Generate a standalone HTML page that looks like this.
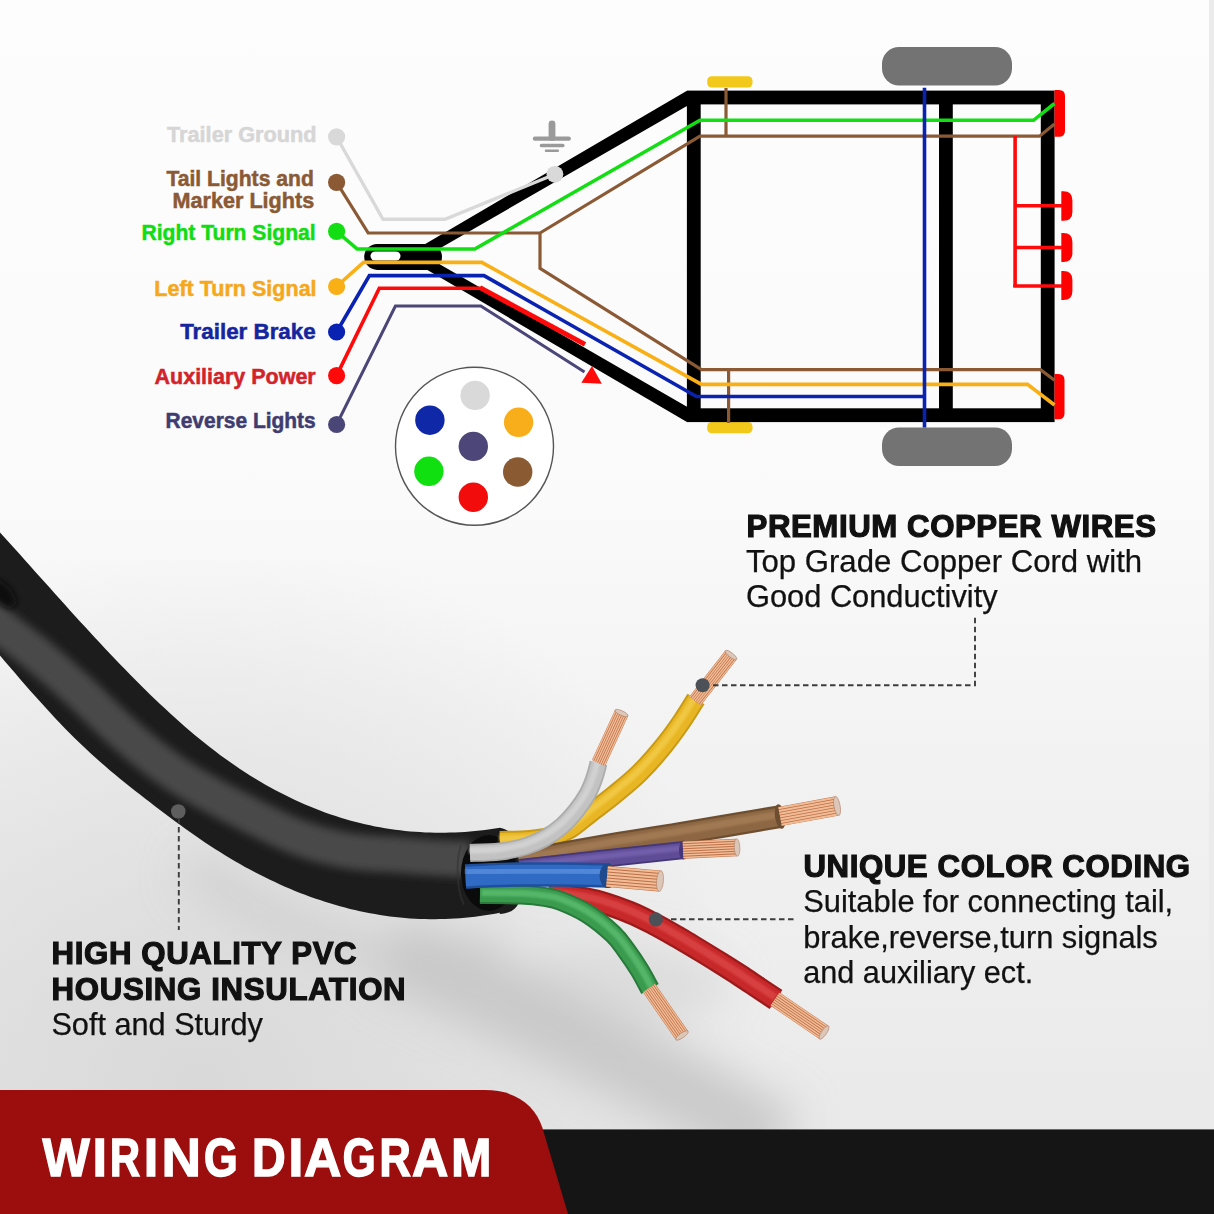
<!DOCTYPE html><html><head><meta charset="utf-8"><style>html,body{margin:0;padding:0;background:#f4f4f4;overflow:hidden;width:1214px;height:1214px;}svg{display:block}</style></head><body>
<svg width="1214" height="1214" viewBox="0 0 1214 1214">
<defs>
<linearGradient id="bg" x1="0" y1="0" x2="0" y2="1214" gradientUnits="userSpaceOnUse">
 <stop offset="0" stop-color="#fdfdfd"/>
 <stop offset="0.42" stop-color="#fafafa"/>
 <stop offset="0.60" stop-color="#f3f3f3"/>
 <stop offset="0.78" stop-color="#eeeeee"/>
 <stop offset="0.90" stop-color="#eaeaea"/>
 <stop offset="1" stop-color="#e8e8e8"/>
</linearGradient>
<radialGradient id="bl" cx="200" cy="1090" r="560" gradientUnits="userSpaceOnUse">
 <stop offset="0" stop-color="#d9d9d9" stop-opacity="1"/>
 <stop offset="1" stop-color="#d6d6d6" stop-opacity="0"/>
</radialGradient>
<filter id="blur8" x="-50%" y="-50%" width="200%" height="200%"><feGaussianBlur stdDeviation="8"/></filter>
<filter id="blur20" x="-50%" y="-50%" width="200%" height="200%"><feGaussianBlur stdDeviation="20"/></filter>
<filter id="blur3" x="-50%" y="-50%" width="200%" height="200%"><feGaussianBlur stdDeviation="3"/></filter>
<filter id="blur4" x="-50%" y="-50%" width="200%" height="200%"><feGaussianBlur stdDeviation="4.5"/></filter>
<filter id="blur1" x="-50%" y="-50%" width="200%" height="200%"><feGaussianBlur stdDeviation="1.2"/></filter>
<pattern id="copper" width="4" height="4" patternUnits="userSpaceOnUse"><rect width="4" height="4" fill="#e9a878"/><rect width="4" height="1.3" fill="#c27645"/></pattern>
</defs>
<rect x="0" y="0" width="1214" height="1214" fill="url(#bg)"/>
<rect x="0" y="560" width="1214" height="654" fill="url(#bl)"/>
<rect x="1209" y="0" width="5" height="1214" fill="#ebebeb"/>
<rect x="882" y="47" width="130" height="38.5" rx="17" fill="#737373"/>
<rect x="882" y="427.5" width="130" height="38.5" rx="17" fill="#737373"/>
<rect x="707.2" y="76.2" width="45.3" height="11.3" rx="4.5" fill="#f2c81a"/>
<rect x="707.2" y="422" width="45.3" height="11.3" rx="4.5" fill="#f2c81a"/>
<g fill="none" stroke="#000" stroke-width="13.8" stroke-linejoin="miter">
<rect x="693.8" y="97.5" width="353.9" height="317.7"/>
<path d="M 945.9,97.5 L 945.9,415.2"/>
</g>
<path d="M 412,251.8 L 686.5,90.9 L 694,90.9 L 694,106.3 L 686.5,106.3 L 412,264.4 Z" fill="#000"/>
<path d="M 412,260.9 L 686.5,421.8 L 694,421.8 L 694,406.4 L 686.5,406.4 L 412,248.3 Z" fill="#000"/>
<rect x="364.2" y="243.9" width="77.8" height="26" rx="13" fill="#000"/>
<rect x="370.5" y="251.4" width="30" height="9.2" rx="4.6" fill="#fff"/>
<path d="M 1054.5,89.9 L 1059.0,89.9 Q 1065.0,89.9 1065.0,95.9 L 1065.0,130.8 Q 1065.0,136.8 1059.0,136.8 L 1054.5,136.8 Z" fill="#ff0000"/>
<path d="M 1054.5,374.1 L 1058.5,374.1 Q 1064.5,374.1 1064.5,380.1 L 1064.5,413.3 Q 1064.5,419.3 1058.5,419.3 L 1054.5,419.3 Z" fill="#ff0000"/>
<path d="M 1061.3,191.2 L 1063.4,191.2 Q 1072.4,191.2 1072.4,200.2 L 1072.4,211.7 Q 1072.4,220.7 1063.4,220.7 L 1061.3,220.7 Z" fill="#ff0000"/>
<path d="M 1061.3,233.0 L 1063.4,233.0 Q 1072.4,233.0 1072.4,242.0 L 1072.4,252.9 Q 1072.4,261.9 1063.4,261.9 L 1061.3,261.9 Z" fill="#ff0000"/>
<path d="M 1061.3,271.0 L 1063.4,271.0 Q 1072.4,271.0 1072.4,280.0 L 1072.4,290.9 Q 1072.4,299.9 1063.4,299.9 L 1061.3,299.9 Z" fill="#ff0000"/>
<path d="M 336.6,137.0 L 383.0,219.3 L 445.0,219.3 L 554.9,174.3" fill="none" stroke="#d9d9d9" stroke-width="3.4" stroke-linejoin="miter"/>
<path d="M 726.0,88.0 L 726.0,136.4" fill="none" stroke="#8b5a35" stroke-width="3.2" stroke-linejoin="miter"/>
<path d="M 728.6,369.5 L 728.6,423.0" fill="none" stroke="#8b5a35" stroke-width="3.2" stroke-linejoin="miter"/>
<path d="M 336.6,182.4 L 368.2,233.0 L 540.0,233.0 L 700.0,136.2 L 1039.5,136.2 L 1054.5,124.0" fill="none" stroke="#8b5a35" stroke-width="3.2" stroke-linejoin="miter"/>
<path d="M 540.0,233.0 L 540.0,268.3 L 701.5,369.6 L 1040.5,369.6 L 1054.5,380.2" fill="none" stroke="#8b5a35" stroke-width="3.2" stroke-linejoin="miter"/>
<path d="M 336.6,231.3 L 357.2,249.0 L 474.8,249.0 L 700.0,120.3 L 1033.5,120.3 L 1054.5,103.5" fill="none" stroke="#13dd13" stroke-width="3.6" stroke-linejoin="miter"/>
<path d="M 336.6,286.5 L 363.5,262.4 L 481.8,262.4 L 701.5,384.4 L 1027.5,384.4 L 1054.5,405.0" fill="none" stroke="#f8b016" stroke-width="3.6" stroke-linejoin="miter"/>
<path d="M 924.5,87.8 L 924.5,427.6" fill="none" stroke="#0a22b2" stroke-width="3.6" stroke-linejoin="miter"/>
<path d="M 336.6,332.0 L 369.4,275.6 L 484.0,275.6 L 696.5,396.5 L 924.5,396.5" fill="none" stroke="#0a22b2" stroke-width="3.6" stroke-linejoin="miter"/>
<path d="M 336.6,375.6 L 379.3,288.3 L 482.0,288.3" fill="none" stroke="#ff0a0a" stroke-width="3.6" stroke-linejoin="miter"/>
<path d="M 480.0,287.6 L 585.0,344.4" fill="none" stroke="#ff0a0a" stroke-width="5.0" stroke-linejoin="miter"/>
<path d="M 1015.1,136.0 L 1015.1,287.0" fill="none" stroke="#ff0a0a" stroke-width="3.6" stroke-linejoin="miter"/>
<path d="M 1015.1,205.7 L 1062.0,205.7" fill="none" stroke="#ff0a0a" stroke-width="3.6" stroke-linejoin="miter"/>
<path d="M 1015.1,247.5 L 1062.0,247.5" fill="none" stroke="#ff0a0a" stroke-width="3.6" stroke-linejoin="miter"/>
<path d="M 1013.3,286.0 L 1062.0,286.0" fill="none" stroke="#ff0a0a" stroke-width="3.6" stroke-linejoin="miter"/>
<path d="M 336.6,424.5 L 395.4,306.0 L 480.8,306.0 L 584.5,372.0" fill="none" stroke="#4a4678" stroke-width="3.0" stroke-linejoin="miter"/>
<path d="M 592,366 L 581.3,382.8 L 601.8,383.8 Z" fill="#ff0a0a"/>
<circle cx="336.6" cy="136.8" r="8.6" fill="#d9d9d9"/>
<circle cx="336.6" cy="182.4" r="8.6" fill="#8b5a35"/>
<circle cx="336.6" cy="231.3" r="8.6" fill="#13dd13"/>
<circle cx="336.6" cy="286.5" r="8.6" fill="#f8b016"/>
<circle cx="336.6" cy="332.0" r="8.6" fill="#0a22b2"/>
<circle cx="336.6" cy="375.6" r="8.6" fill="#ff0a0a"/>
<circle cx="336.6" cy="424.5" r="8.6" fill="#4a4678"/>
<circle cx="554.9" cy="174.3" r="8.4" fill="#d9d9d9"/>
<g stroke="#9a9a9a" stroke-linecap="round" fill="none"><path d="M 552,124 L 552,137.5" stroke-width="6.8"/><path d="M 534.9,138.7 L 568.8,138.7" stroke-width="4.3"/><path d="M 541.6,145.5 L 562.7,145.5" stroke-width="3.7"/><path d="M 546,150.7 L 557.8,150.7" stroke-width="2.5"/></g>
<circle cx="474.5" cy="446.3" r="79" fill="#fff" stroke="#555" stroke-width="1.4"/>
<circle cx="475.1" cy="395.4" r="14.7" fill="#d9d9d9"/>
<circle cx="429.9" cy="420.2" r="14.7" fill="#0f28a8"/>
<circle cx="518.6" cy="422.3" r="14.7" fill="#f8ae1a"/>
<circle cx="473.3" cy="446.4" r="14.7" fill="#4d4779"/>
<circle cx="428.9" cy="471.3" r="14.7" fill="#10e010"/>
<circle cx="517.7" cy="472.0" r="14.7" fill="#8a5a33"/>
<circle cx="473.3" cy="497.2" r="14.7" fill="#f20c0c"/>
<text x="167.0" y="142.2" textLength="149.6" lengthAdjust="spacingAndGlyphs" style="font-family:&quot;Liberation Sans&quot;,sans-serif;font-weight:bold;font-size:21.3px;fill:#d6d6d6;stroke:#d6d6d6;stroke-width:0.5px">Trailer Ground</text>
<text x="166.4" y="185.8" textLength="147.4" lengthAdjust="spacingAndGlyphs" style="font-family:&quot;Liberation Sans&quot;,sans-serif;font-weight:bold;font-size:21.3px;fill:#8b5a35;stroke:#8b5a35;stroke-width:0.5px">Tail Lights and</text>
<text x="172.6" y="207.6" textLength="141.6" lengthAdjust="spacingAndGlyphs" style="font-family:&quot;Liberation Sans&quot;,sans-serif;font-weight:bold;font-size:21.3px;fill:#8b5a35;stroke:#8b5a35;stroke-width:0.5px">Marker Lights</text>
<text x="141.4" y="239.8" textLength="174.3" lengthAdjust="spacingAndGlyphs" style="font-family:&quot;Liberation Sans&quot;,sans-serif;font-weight:bold;font-size:21.3px;fill:#12dc12;stroke:#12dc12;stroke-width:0.5px">Right Turn Signal</text>
<text x="154.3" y="295.6" textLength="162.3" lengthAdjust="spacingAndGlyphs" style="font-family:&quot;Liberation Sans&quot;,sans-serif;font-weight:bold;font-size:21.3px;fill:#f5a81c;stroke:#f5a81c;stroke-width:0.5px">Left Turn Signal</text>
<text x="180.2" y="339.2" textLength="135.5" lengthAdjust="spacingAndGlyphs" style="font-family:&quot;Liberation Sans&quot;,sans-serif;font-weight:bold;font-size:21.3px;fill:#15259e;stroke:#15259e;stroke-width:0.5px">Trailer Brake</text>
<text x="154.6" y="383.5" textLength="161.1" lengthAdjust="spacingAndGlyphs" style="font-family:&quot;Liberation Sans&quot;,sans-serif;font-weight:bold;font-size:21.3px;fill:#d2232b;stroke:#d2232b;stroke-width:0.5px">Auxiliary Power</text>
<text x="165.6" y="428.0" textLength="150.1" lengthAdjust="spacingAndGlyphs" style="font-family:&quot;Liberation Sans&quot;,sans-serif;font-weight:bold;font-size:21.3px;fill:#403c70;stroke:#403c70;stroke-width:0.5px">Reverse Lights</text>
<g filter="url(#blur20)">
<path d="M 189.0,864.5 L 194.0,868.0 L 199.0,871.6 L 204.0,875.0 L 209.0,878.4 L 214.0,881.7 L 219.0,885.0 L 224.0,888.1 L 229.0,891.2 L 234.0,894.2 L 239.0,897.2 L 244.0,900.1 L 249.0,902.9 L 254.0,905.6 L 259.0,908.3 L 264.0,910.8 L 269.0,913.3 L 274.0,915.8 L 279.0,918.1 L 284.0,920.4 L 289.0,922.7 L 294.0,924.8 L 299.0,926.9 L 304.0,928.9 L 309.0,930.8 L 314.0,932.7 L 319.0,934.4 L 324.0,936.1 L 329.0,937.8 L 334.0,939.3 L 339.0,940.8 L 344.0,942.2 L 349.0,943.6 L 354.0,944.9 L 359.0,946.1 L 364.0,947.2 L 369.0,948.2 L 374.0,949.2 L 379.0,950.1 L 384.0,950.9 L 389.0,951.7 L 394.0,952.4 L 399.0,953.0 L 404.0,953.5 L 409.0,954.0 L 414.0,954.4 L 419.0,954.7 L 424.0,954.9 L 429.0,955.1 L 434.0,955.2 L 439.0,955.2 L 444.0,955.1 L 449.0,955.0 L 454.0,954.8 L 459.0,954.5 L 464.0,954.2 L 469.0,953.8 L 474.0,953.3 L 479.0,952.7 L 484.0,952.1 L 489.0,951.3 L 494.0,950.6 L 499.0,949.7 L 504.0,948.8" fill="none" stroke="#c8c8c8" stroke-width="40" opacity="0.6"/>
<ellipse cx="620" cy="985" rx="110" ry="40" fill="#d2d2d2" opacity="0.55"/>
<path d="M 390,950 C 490,995 590,1045 700,1100 L 780,1145" fill="none" stroke="#c6c6c6" stroke-width="75" opacity="0.9"/>
</g>
<path d="M -40.0,489.1 L -35.0,494.4 L -30.0,499.7 L -25.0,505.1 L -20.0,510.5 L -15.0,516.0 L -10.0,521.4 L -5.0,526.9 L 0.0,532.4 L 5.0,537.9 L 10.0,543.5 L 15.0,549.1 L 20.0,554.6 L 25.0,560.2 L 30.0,565.8 L 35.0,571.4 L 40.0,577.0 L 45.0,582.6 L 50.0,588.1 L 55.0,593.7 L 60.0,599.3 L 65.0,604.8 L 70.0,610.4 L 75.0,615.9 L 80.0,621.4 L 85.0,626.8 L 90.0,632.3 L 95.0,637.7 L 100.0,643.1 L 105.0,648.4 L 110.0,653.7 L 115.0,658.9 L 120.0,664.2 L 125.0,669.3 L 130.0,674.4 L 135.0,679.5 L 140.0,684.5 L 145.0,689.5 L 150.0,694.4 L 155.0,699.2 L 160.0,704.0 L 165.0,708.6 L 170.0,713.3 L 175.0,717.8 L 180.0,722.3 L 185.0,726.7 L 190.0,731.0 L 195.0,735.2 L 200.0,739.3 L 205.0,743.3 L 210.0,747.3 L 215.0,751.1 L 220.0,754.9 L 225.0,758.5 L 230.0,762.1 L 235.0,765.6 L 240.0,768.9 L 245.0,772.2 L 250.0,775.4 L 255.0,778.5 L 260.0,781.5 L 265.0,784.4 L 270.0,787.2 L 275.0,790.0 L 280.0,792.6 L 285.0,795.1 L 290.0,797.6 L 295.0,800.0 L 300.0,802.3 L 305.0,804.5 L 310.0,806.6 L 315.0,808.6 L 320.0,810.5 L 325.0,812.4 L 330.0,814.2 L 335.0,815.8 L 340.0,817.4 L 345.0,819.0 L 350.0,820.4 L 355.0,821.8 L 360.0,823.0 L 365.0,824.2 L 370.0,825.3 L 375.0,826.4 L 380.0,827.3 L 385.0,828.2 L 390.0,829.0 L 395.0,829.7 L 400.0,830.3 L 405.0,830.9 L 410.0,831.4 L 415.0,831.8 L 420.0,832.1 L 425.0,832.4 L 430.0,832.6 L 435.0,832.7 L 440.0,832.7 L 445.0,832.7 L 450.0,832.6 L 455.0,832.4 L 460.0,832.2 L 465.0,831.9 L 470.0,831.5 L 475.0,831.0 L 480.0,830.5 L 485.0,829.9 L 490.0,829.2 L 495.0,828.5 L 500.0,827.7 C 508,829.5 514,834 516.5,842 C 520,855 520.5,890 518.8,902.8 C 516,910 509,913.5 499.6,914  L 500.0,912.8 L 495.0,913.7 L 490.0,914.6 L 485.0,915.3 L 480.0,916.1 L 475.0,916.7 L 470.0,917.3 L 465.0,917.8 L 460.0,918.2 L 455.0,918.5 L 450.0,918.8 L 445.0,919.0 L 440.0,919.1 L 435.0,919.2 L 430.0,919.2 L 425.0,919.1 L 420.0,918.9 L 415.0,918.7 L 410.0,918.4 L 405.0,918.0 L 400.0,917.5 L 395.0,917.0 L 390.0,916.4 L 385.0,915.7 L 380.0,914.9 L 375.0,914.1 L 370.0,913.2 L 365.0,912.2 L 360.0,911.2 L 355.0,910.1 L 350.0,908.9 L 345.0,907.6 L 340.0,906.2 L 335.0,904.8 L 330.0,903.3 L 325.0,901.8 L 320.0,900.1 L 315.0,898.4 L 310.0,896.7 L 305.0,894.8 L 300.0,892.9 L 295.0,890.9 L 290.0,888.8 L 285.0,886.7 L 280.0,884.4 L 275.0,882.1 L 270.0,879.8 L 265.0,877.3 L 260.0,874.8 L 255.0,872.3 L 250.0,869.6 L 245.0,866.9 L 240.0,864.1 L 235.0,861.2 L 230.0,858.2 L 225.0,855.2 L 220.0,852.1 L 215.0,849.0 L 210.0,845.7 L 205.0,842.4 L 200.0,839.0 L 195.0,835.6 L 190.0,832.0 L 185.0,828.5 L 180.0,824.8 L 175.0,821.2 L 170.0,817.5 L 165.0,813.7 L 160.0,810.0 L 155.0,806.2 L 150.0,802.3 L 145.0,798.5 L 140.0,794.6 L 135.0,790.7 L 130.0,786.8 L 125.0,782.8 L 120.0,778.7 L 115.0,774.6 L 110.0,770.4 L 105.0,766.1 L 100.0,761.8 L 95.0,757.3 L 90.0,752.8 L 85.0,748.1 L 80.0,743.3 L 75.0,738.5 L 70.0,733.5 L 65.0,728.4 L 60.0,723.2 L 55.0,717.9 L 50.0,712.6 L 45.0,707.1 L 40.0,701.6 L 35.0,696.0 L 30.0,690.4 L 25.0,684.7 L 20.0,678.9 L 15.0,673.1 L 10.0,667.3 L 5.0,661.4 L 0.0,655.5 L -5.0,649.7 L -10.0,643.8 L -15.0,637.9 L -20.0,632.1 L -25.0,626.3 L -30.0,620.5 L -35.0,614.8 L -40.0,609.2 Z" fill="#1c1c1c"/>
<clipPath id="cableclip"><path d="M -40.0,489.1 L -35.0,494.4 L -30.0,499.7 L -25.0,505.1 L -20.0,510.5 L -15.0,516.0 L -10.0,521.4 L -5.0,526.9 L 0.0,532.4 L 5.0,537.9 L 10.0,543.5 L 15.0,549.1 L 20.0,554.6 L 25.0,560.2 L 30.0,565.8 L 35.0,571.4 L 40.0,577.0 L 45.0,582.6 L 50.0,588.1 L 55.0,593.7 L 60.0,599.3 L 65.0,604.8 L 70.0,610.4 L 75.0,615.9 L 80.0,621.4 L 85.0,626.8 L 90.0,632.3 L 95.0,637.7 L 100.0,643.1 L 105.0,648.4 L 110.0,653.7 L 115.0,658.9 L 120.0,664.2 L 125.0,669.3 L 130.0,674.4 L 135.0,679.5 L 140.0,684.5 L 145.0,689.5 L 150.0,694.4 L 155.0,699.2 L 160.0,704.0 L 165.0,708.6 L 170.0,713.3 L 175.0,717.8 L 180.0,722.3 L 185.0,726.7 L 190.0,731.0 L 195.0,735.2 L 200.0,739.3 L 205.0,743.3 L 210.0,747.3 L 215.0,751.1 L 220.0,754.9 L 225.0,758.5 L 230.0,762.1 L 235.0,765.6 L 240.0,768.9 L 245.0,772.2 L 250.0,775.4 L 255.0,778.5 L 260.0,781.5 L 265.0,784.4 L 270.0,787.2 L 275.0,790.0 L 280.0,792.6 L 285.0,795.1 L 290.0,797.6 L 295.0,800.0 L 300.0,802.3 L 305.0,804.5 L 310.0,806.6 L 315.0,808.6 L 320.0,810.5 L 325.0,812.4 L 330.0,814.2 L 335.0,815.8 L 340.0,817.4 L 345.0,819.0 L 350.0,820.4 L 355.0,821.8 L 360.0,823.0 L 365.0,824.2 L 370.0,825.3 L 375.0,826.4 L 380.0,827.3 L 385.0,828.2 L 390.0,829.0 L 395.0,829.7 L 400.0,830.3 L 405.0,830.9 L 410.0,831.4 L 415.0,831.8 L 420.0,832.1 L 425.0,832.4 L 430.0,832.6 L 435.0,832.7 L 440.0,832.7 L 445.0,832.7 L 450.0,832.6 L 455.0,832.4 L 460.0,832.2 L 465.0,831.9 L 470.0,831.5 L 475.0,831.0 L 480.0,830.5 L 485.0,829.9 L 490.0,829.2 L 495.0,828.5 L 500.0,827.7 C 508,829.5 514,834 516.5,842 C 520,855 520.5,890 518.8,902.8 C 516,910 509,913.5 499.6,914  L 500.0,912.8 L 495.0,913.7 L 490.0,914.6 L 485.0,915.3 L 480.0,916.1 L 475.0,916.7 L 470.0,917.3 L 465.0,917.8 L 460.0,918.2 L 455.0,918.5 L 450.0,918.8 L 445.0,919.0 L 440.0,919.1 L 435.0,919.2 L 430.0,919.2 L 425.0,919.1 L 420.0,918.9 L 415.0,918.7 L 410.0,918.4 L 405.0,918.0 L 400.0,917.5 L 395.0,917.0 L 390.0,916.4 L 385.0,915.7 L 380.0,914.9 L 375.0,914.1 L 370.0,913.2 L 365.0,912.2 L 360.0,911.2 L 355.0,910.1 L 350.0,908.9 L 345.0,907.6 L 340.0,906.2 L 335.0,904.8 L 330.0,903.3 L 325.0,901.8 L 320.0,900.1 L 315.0,898.4 L 310.0,896.7 L 305.0,894.8 L 300.0,892.9 L 295.0,890.9 L 290.0,888.8 L 285.0,886.7 L 280.0,884.4 L 275.0,882.1 L 270.0,879.8 L 265.0,877.3 L 260.0,874.8 L 255.0,872.3 L 250.0,869.6 L 245.0,866.9 L 240.0,864.1 L 235.0,861.2 L 230.0,858.2 L 225.0,855.2 L 220.0,852.1 L 215.0,849.0 L 210.0,845.7 L 205.0,842.4 L 200.0,839.0 L 195.0,835.6 L 190.0,832.0 L 185.0,828.5 L 180.0,824.8 L 175.0,821.2 L 170.0,817.5 L 165.0,813.7 L 160.0,810.0 L 155.0,806.2 L 150.0,802.3 L 145.0,798.5 L 140.0,794.6 L 135.0,790.7 L 130.0,786.8 L 125.0,782.8 L 120.0,778.7 L 115.0,774.6 L 110.0,770.4 L 105.0,766.1 L 100.0,761.8 L 95.0,757.3 L 90.0,752.8 L 85.0,748.1 L 80.0,743.3 L 75.0,738.5 L 70.0,733.5 L 65.0,728.4 L 60.0,723.2 L 55.0,717.9 L 50.0,712.6 L 45.0,707.1 L 40.0,701.6 L 35.0,696.0 L 30.0,690.4 L 25.0,684.7 L 20.0,678.9 L 15.0,673.1 L 10.0,667.3 L 5.0,661.4 L 0.0,655.5 L -5.0,649.7 L -10.0,643.8 L -15.0,637.9 L -20.0,632.1 L -25.0,626.3 L -30.0,620.5 L -35.0,614.8 L -40.0,609.2 Z"/></clipPath>
<g clip-path="url(#cableclip)">
<path d="M -40.0,583.0 C -36.7,586.8 -26.7,598.8 -20.0,606.0 C -13.3,613.2 -10.0,617.5 0.0,626.0 C 10.0,634.5 26.7,646.0 40.0,657.0 C 53.3,668.0 66.7,679.8 80.0,692.0 C 93.3,704.2 106.7,718.2 120.0,730.0 C 133.3,741.8 148.3,754.2 160.0,763.0 C 171.7,771.8 175.0,774.3 190.0,783.0 C 205.0,791.7 231.7,805.8 250.0,815.0 C 268.3,824.2 283.3,832.0 300.0,838.0 C 316.7,844.0 333.3,848.2 350.0,851.0 C 366.7,853.8 385.0,853.8 400.0,855.0 C 415.0,856.2 428.3,857.3 440.0,858.0 C 451.7,858.7 465.0,858.8 470.0,859.0 " fill="none" stroke="#4a4a4a" stroke-width="36" filter="url(#blur4)"/>
<ellipse cx="3" cy="594" rx="9" ry="17" fill="#0e0e0e" filter="url(#blur3)" transform="rotate(-40 3 594)"/>
</g>
<ellipse cx="489" cy="873" rx="28" ry="38" fill="#0b0b0b"/>
<path d="M 461,845 C 456,860 456,888 464,905" fill="none" stroke="#333" stroke-width="2" opacity="0.6"/>
<path d="M 500.0,841.0 C 505.0,840.8 521.3,840.8 530.0,840.0 C 538.7,839.2 545.3,838.3 552.0,836.5 C 558.7,834.7 563.7,832.8 570.0,829.0 C 576.3,825.2 582.7,819.2 590.0,813.5 C 597.3,807.8 605.7,801.8 614.0,795.0 C 622.3,788.2 631.7,780.8 640.0,772.5 C 648.3,764.2 657.0,754.1 664.0,745.5 C 671.0,736.9 676.7,728.8 682.0,721.0 C 687.3,713.2 693.7,702.7 696.0,699.0 " fill="none" stroke="#c99a16" stroke-width="20.0" stroke-linecap="butt"/><path d="M 500.0,841.0 C 505.0,840.8 521.3,840.8 530.0,840.0 C 538.7,839.2 545.3,838.3 552.0,836.5 C 558.7,834.7 563.7,832.8 570.0,829.0 C 576.3,825.2 582.7,819.2 590.0,813.5 C 597.3,807.8 605.7,801.8 614.0,795.0 C 622.3,788.2 631.7,780.8 640.0,772.5 C 648.3,764.2 657.0,754.1 664.0,745.5 C 671.0,736.9 676.7,728.8 682.0,721.0 C 687.3,713.2 693.7,702.7 696.0,699.0 " fill="none" stroke="#e8b624" stroke-width="16.0" stroke-linecap="butt"/><path d="M 500.0,841.0 C 505.0,840.8 521.3,840.8 530.0,840.0 C 538.7,839.2 545.3,838.3 552.0,836.5 C 558.7,834.7 563.7,832.8 570.0,829.0 C 576.3,825.2 582.7,819.2 590.0,813.5 C 597.3,807.8 605.7,801.8 614.0,795.0 C 622.3,788.2 631.7,780.8 640.0,772.5 C 648.3,764.2 657.0,754.1 664.0,745.5 C 671.0,736.9 676.7,728.8 682.0,721.0 C 687.3,713.2 693.7,702.7 696.0,699.0 " fill="none" stroke="#f3cc4c" stroke-width="6.4" stroke-linecap="butt" transform="translate(-0.8,-2.2)" opacity="0.8" filter="url(#blur1)"/>
<g transform="translate(695.0,701.0) rotate(-51.95)"><rect x="0" y="-7.2" width="58.4" height="14.5" rx="1" fill="#bb7048"/><line x1="0" y1="-6.2" x2="58.4" y2="-6.2" stroke="#f2bc96" stroke-width="1.37"/><line x1="0" y1="-4.1" x2="58.4" y2="-4.1" stroke="#f2bc96" stroke-width="1.37"/><line x1="0" y1="-2.1" x2="58.4" y2="-2.1" stroke="#f2bc96" stroke-width="1.37"/><line x1="0" y1="0.0" x2="58.4" y2="0.0" stroke="#f2bc96" stroke-width="1.37"/><line x1="0" y1="2.1" x2="58.4" y2="2.1" stroke="#f2bc96" stroke-width="1.37"/><line x1="0" y1="4.1" x2="58.4" y2="4.1" stroke="#f2bc96" stroke-width="1.37"/><line x1="0" y1="6.2" x2="58.4" y2="6.2" stroke="#f2bc96" stroke-width="1.37"/><ellipse cx="58.4" cy="0" rx="2.3" ry="7.2" fill="#dcc6b8" stroke="#b08068" stroke-width="0.6"/></g>
<path d="M 520.0,861.0 C 533.3,858.6 573.3,851.1 600.0,846.5 C 626.7,841.9 649.8,838.5 680.0,833.5 C 710.2,828.5 764.2,819.3 781.0,816.5 " fill="none" stroke="#6e4e30" stroke-width="23.0" stroke-linecap="butt"/><path d="M 520.0,861.0 C 533.3,858.6 573.3,851.1 600.0,846.5 C 626.7,841.9 649.8,838.5 680.0,833.5 C 710.2,828.5 764.2,819.3 781.0,816.5 " fill="none" stroke="#8d6743" stroke-width="18.4" stroke-linecap="butt"/><path d="M 520.0,861.0 C 533.3,858.6 573.3,851.1 600.0,846.5 C 626.7,841.9 649.8,838.5 680.0,833.5 C 710.2,828.5 764.2,819.3 781.0,816.5 " fill="none" stroke="#a57e58" stroke-width="7.4" stroke-linecap="butt" transform="translate(-0.8,-2.2)" opacity="0.8" filter="url(#blur1)"/>
<ellipse cx="780" cy="816.5" rx="5" ry="12.5" fill="#6e4e30" transform="rotate(-9 780 816.5)"/>
<g transform="translate(780.0,816.5) rotate(-10.44)"><rect x="0" y="-9.8" width="58.0" height="19.5" rx="1" fill="#bb7048"/><line x1="0" y1="-8.4" x2="58.0" y2="-8.4" stroke="#f2bc96" stroke-width="1.84"/><line x1="0" y1="-5.6" x2="58.0" y2="-5.6" stroke="#f2bc96" stroke-width="1.84"/><line x1="0" y1="-2.8" x2="58.0" y2="-2.8" stroke="#f2bc96" stroke-width="1.84"/><line x1="0" y1="0.0" x2="58.0" y2="0.0" stroke="#f2bc96" stroke-width="1.84"/><line x1="0" y1="2.8" x2="58.0" y2="2.8" stroke="#f2bc96" stroke-width="1.84"/><line x1="0" y1="5.6" x2="58.0" y2="5.6" stroke="#f2bc96" stroke-width="1.84"/><line x1="0" y1="8.4" x2="58.0" y2="8.4" stroke="#f2bc96" stroke-width="1.84"/><ellipse cx="58.0" cy="0" rx="3.1" ry="9.8" fill="#dcc6b8" stroke="#b08068" stroke-width="0.6"/></g>
<path d="M 520.0,868.0 C 533.3,866.5 572.7,862.0 600.0,859.0 C 627.3,856.0 670.0,851.5 684.0,850.0 " fill="none" stroke="#443678" stroke-width="18.0" stroke-linecap="butt"/><path d="M 520.0,868.0 C 533.3,866.5 572.7,862.0 600.0,859.0 C 627.3,856.0 670.0,851.5 684.0,850.0 " fill="none" stroke="#5e4c96" stroke-width="14.4" stroke-linecap="butt"/><path d="M 520.0,868.0 C 533.3,866.5 572.7,862.0 600.0,859.0 C 627.3,856.0 670.0,851.5 684.0,850.0 " fill="none" stroke="#7764b0" stroke-width="5.8" stroke-linecap="butt" transform="translate(-0.8,-2.2)" opacity="0.8" filter="url(#blur1)"/>
<ellipse cx="683.5" cy="850" rx="4.5" ry="9.5" fill="#443678"/>
<g transform="translate(683.0,850.0) rotate(-2.65)"><rect x="0" y="-8.8" width="54.1" height="17.5" rx="1" fill="#bb7048"/><line x1="0" y1="-7.5" x2="54.1" y2="-7.5" stroke="#f2bc96" stroke-width="1.65"/><line x1="0" y1="-5.0" x2="54.1" y2="-5.0" stroke="#f2bc96" stroke-width="1.65"/><line x1="0" y1="-2.5" x2="54.1" y2="-2.5" stroke="#f2bc96" stroke-width="1.65"/><line x1="0" y1="0.0" x2="54.1" y2="0.0" stroke="#f2bc96" stroke-width="1.65"/><line x1="0" y1="2.5" x2="54.1" y2="2.5" stroke="#f2bc96" stroke-width="1.65"/><line x1="0" y1="5.0" x2="54.1" y2="5.0" stroke="#f2bc96" stroke-width="1.65"/><line x1="0" y1="7.5" x2="54.1" y2="7.5" stroke="#f2bc96" stroke-width="1.65"/><ellipse cx="54.1" cy="0" rx="2.8" ry="8.8" fill="#dcc6b8" stroke="#b08068" stroke-width="0.6"/></g>
<path d="M 548.0,893.0 C 552.5,893.7 566.3,895.5 575.0,897.0 C 583.7,898.5 590.8,899.4 600.0,902.0 C 609.2,904.6 620.8,908.8 630.0,912.5 C 639.2,916.2 646.7,920.2 655.0,924.5 C 663.3,928.8 672.5,934.2 680.0,938.5 C 687.5,942.8 693.3,946.5 700.0,950.5 C 706.7,954.5 713.3,958.6 720.0,962.8 C 726.7,967.0 733.7,971.4 740.0,975.5 C 746.3,979.6 752.0,983.5 758.0,987.5 C 764.0,991.5 773.0,997.5 776.0,999.5 " fill="none" stroke="#9d1a1a" stroke-width="23.0" stroke-linecap="butt"/><path d="M 548.0,893.0 C 552.5,893.7 566.3,895.5 575.0,897.0 C 583.7,898.5 590.8,899.4 600.0,902.0 C 609.2,904.6 620.8,908.8 630.0,912.5 C 639.2,916.2 646.7,920.2 655.0,924.5 C 663.3,928.8 672.5,934.2 680.0,938.5 C 687.5,942.8 693.3,946.5 700.0,950.5 C 706.7,954.5 713.3,958.6 720.0,962.8 C 726.7,967.0 733.7,971.4 740.0,975.5 C 746.3,979.6 752.0,983.5 758.0,987.5 C 764.0,991.5 773.0,997.5 776.0,999.5 " fill="none" stroke="#c7282a" stroke-width="18.4" stroke-linecap="butt"/><path d="M 548.0,893.0 C 552.5,893.7 566.3,895.5 575.0,897.0 C 583.7,898.5 590.8,899.4 600.0,902.0 C 609.2,904.6 620.8,908.8 630.0,912.5 C 639.2,916.2 646.7,920.2 655.0,924.5 C 663.3,928.8 672.5,934.2 680.0,938.5 C 687.5,942.8 693.3,946.5 700.0,950.5 C 706.7,954.5 713.3,958.6 720.0,962.8 C 726.7,967.0 733.7,971.4 740.0,975.5 C 746.3,979.6 752.0,983.5 758.0,987.5 C 764.0,991.5 773.0,997.5 776.0,999.5 " fill="none" stroke="#dc4746" stroke-width="7.4" stroke-linecap="butt" transform="translate(-0.8,-2.2)" opacity="0.8" filter="url(#blur1)"/>
<g transform="translate(775.0,999.0) rotate(34.36)"><rect x="0" y="-8.0" width="59.4" height="16.0" rx="1" fill="#bb7048"/><line x1="0" y1="-6.9" x2="59.4" y2="-6.9" stroke="#f2bc96" stroke-width="1.51"/><line x1="0" y1="-4.6" x2="59.4" y2="-4.6" stroke="#f2bc96" stroke-width="1.51"/><line x1="0" y1="-2.3" x2="59.4" y2="-2.3" stroke="#f2bc96" stroke-width="1.51"/><line x1="0" y1="0.0" x2="59.4" y2="0.0" stroke="#f2bc96" stroke-width="1.51"/><line x1="0" y1="2.3" x2="59.4" y2="2.3" stroke="#f2bc96" stroke-width="1.51"/><line x1="0" y1="4.6" x2="59.4" y2="4.6" stroke="#f2bc96" stroke-width="1.51"/><line x1="0" y1="6.9" x2="59.4" y2="6.9" stroke="#f2bc96" stroke-width="1.51"/><ellipse cx="59.4" cy="0" rx="2.6" ry="8.0" fill="#dcc6b8" stroke="#b08068" stroke-width="0.6"/></g>
<path d="M 480.0,894.0 C 486.8,894.1 510.2,894.0 521.0,894.5 C 531.8,895.0 538.3,895.9 545.0,897.0 C 551.7,898.1 554.0,898.2 561.0,901.0 C 568.0,903.8 578.3,908.0 587.0,913.5 C 595.7,919.0 606.5,927.9 613.0,934.0 C 619.5,940.1 621.6,944.0 626.0,950.0 C 630.4,956.0 635.5,963.5 639.5,970.0 C 643.5,976.5 648.2,985.8 650.0,989.0 " fill="none" stroke="#287a3a" stroke-width="20.0" stroke-linecap="butt"/><path d="M 480.0,894.0 C 486.8,894.1 510.2,894.0 521.0,894.5 C 531.8,895.0 538.3,895.9 545.0,897.0 C 551.7,898.1 554.0,898.2 561.0,901.0 C 568.0,903.8 578.3,908.0 587.0,913.5 C 595.7,919.0 606.5,927.9 613.0,934.0 C 619.5,940.1 621.6,944.0 626.0,950.0 C 630.4,956.0 635.5,963.5 639.5,970.0 C 643.5,976.5 648.2,985.8 650.0,989.0 " fill="none" stroke="#3a9b4f" stroke-width="16.0" stroke-linecap="butt"/><path d="M 480.0,894.0 C 486.8,894.1 510.2,894.0 521.0,894.5 C 531.8,895.0 538.3,895.9 545.0,897.0 C 551.7,898.1 554.0,898.2 561.0,901.0 C 568.0,903.8 578.3,908.0 587.0,913.5 C 595.7,919.0 606.5,927.9 613.0,934.0 C 619.5,940.1 621.6,944.0 626.0,950.0 C 630.4,956.0 635.5,963.5 639.5,970.0 C 643.5,976.5 648.2,985.8 650.0,989.0 " fill="none" stroke="#5bbd70" stroke-width="6.4" stroke-linecap="butt" transform="translate(1.6,-1.2)" opacity="0.8" filter="url(#blur1)"/>
<g transform="translate(649.0,988.0) rotate(55.21)"><rect x="0" y="-7.5" width="57.8" height="15.0" rx="1" fill="#bb7048"/><line x1="0" y1="-6.4" x2="57.8" y2="-6.4" stroke="#f2bc96" stroke-width="1.41"/><line x1="0" y1="-4.3" x2="57.8" y2="-4.3" stroke="#f2bc96" stroke-width="1.41"/><line x1="0" y1="-2.1" x2="57.8" y2="-2.1" stroke="#f2bc96" stroke-width="1.41"/><line x1="0" y1="0.0" x2="57.8" y2="0.0" stroke="#f2bc96" stroke-width="1.41"/><line x1="0" y1="2.1" x2="57.8" y2="2.1" stroke="#f2bc96" stroke-width="1.41"/><line x1="0" y1="4.3" x2="57.8" y2="4.3" stroke="#f2bc96" stroke-width="1.41"/><line x1="0" y1="6.4" x2="57.8" y2="6.4" stroke="#f2bc96" stroke-width="1.41"/><ellipse cx="57.8" cy="0" rx="2.4" ry="7.5" fill="#dcc6b8" stroke="#b08068" stroke-width="0.6"/></g>
<path d="M 470.0,853.0 C 475.0,852.8 490.8,852.6 500.0,851.5 C 509.2,850.4 517.5,848.8 525.0,846.5 C 532.5,844.2 538.8,841.4 545.0,838.0 C 551.2,834.6 556.8,830.5 562.0,826.0 C 567.2,821.5 571.8,816.2 576.0,811.0 C 580.2,805.8 584.0,800.3 587.0,795.0 C 590.0,789.7 592.1,784.3 594.0,779.0 C 595.9,773.7 597.8,765.7 598.5,763.0 " fill="none" stroke="#acacac" stroke-width="18.0" stroke-linecap="butt"/><path d="M 470.0,853.0 C 475.0,852.8 490.8,852.6 500.0,851.5 C 509.2,850.4 517.5,848.8 525.0,846.5 C 532.5,844.2 538.8,841.4 545.0,838.0 C 551.2,834.6 556.8,830.5 562.0,826.0 C 567.2,821.5 571.8,816.2 576.0,811.0 C 580.2,805.8 584.0,800.3 587.0,795.0 C 590.0,789.7 592.1,784.3 594.0,779.0 C 595.9,773.7 597.8,765.7 598.5,763.0 " fill="none" stroke="#c2c2c2" stroke-width="14.4" stroke-linecap="butt"/><path d="M 470.0,853.0 C 475.0,852.8 490.8,852.6 500.0,851.5 C 509.2,850.4 517.5,848.8 525.0,846.5 C 532.5,844.2 538.8,841.4 545.0,838.0 C 551.2,834.6 556.8,830.5 562.0,826.0 C 567.2,821.5 571.8,816.2 576.0,811.0 C 580.2,805.8 584.0,800.3 587.0,795.0 C 590.0,789.7 592.1,784.3 594.0,779.0 C 595.9,773.7 597.8,765.7 598.5,763.0 " fill="none" stroke="#d6d6d6" stroke-width="5.8" stroke-linecap="butt" transform="translate(-0.8,-2.2)" opacity="0.8" filter="url(#blur1)"/>
<g transform="translate(598.5,763.0) rotate(-65.30)"><rect x="0" y="-7.2" width="55.0" height="14.5" rx="1" fill="#bb7048"/><line x1="0" y1="-6.2" x2="55.0" y2="-6.2" stroke="#f2bc96" stroke-width="1.37"/><line x1="0" y1="-4.1" x2="55.0" y2="-4.1" stroke="#f2bc96" stroke-width="1.37"/><line x1="0" y1="-2.1" x2="55.0" y2="-2.1" stroke="#f2bc96" stroke-width="1.37"/><line x1="0" y1="0.0" x2="55.0" y2="0.0" stroke="#f2bc96" stroke-width="1.37"/><line x1="0" y1="2.1" x2="55.0" y2="2.1" stroke="#f2bc96" stroke-width="1.37"/><line x1="0" y1="4.1" x2="55.0" y2="4.1" stroke="#f2bc96" stroke-width="1.37"/><line x1="0" y1="6.2" x2="55.0" y2="6.2" stroke="#f2bc96" stroke-width="1.37"/><ellipse cx="55.0" cy="0" rx="2.3" ry="7.2" fill="#dcc6b8" stroke="#b08068" stroke-width="0.6"/></g>
<path d="M 465.5,876.5 C 469.6,876.3 480.9,875.5 490.0,875.2 C 499.1,874.9 508.3,874.6 520.0,874.5 C 531.7,874.4 546.7,874.4 560.0,874.5 C 573.3,874.6 591.7,875.0 600.0,875.2 C 608.3,875.4 608.3,875.5 610.0,875.5 " fill="none" stroke="#1f4f9c" stroke-width="24.5" stroke-linecap="butt"/><path d="M 465.5,876.5 C 469.6,876.3 480.9,875.5 490.0,875.2 C 499.1,874.9 508.3,874.6 520.0,874.5 C 531.7,874.4 546.7,874.4 560.0,874.5 C 573.3,874.6 591.7,875.0 600.0,875.2 C 608.3,875.4 608.3,875.5 610.0,875.5 " fill="none" stroke="#2f6bc4" stroke-width="19.6" stroke-linecap="butt"/><path d="M 465.5,876.5 C 469.6,876.3 480.9,875.5 490.0,875.2 C 499.1,874.9 508.3,874.6 520.0,874.5 C 531.7,874.4 546.7,874.4 560.0,874.5 C 573.3,874.6 591.7,875.0 600.0,875.2 C 608.3,875.4 608.3,875.5 610.0,875.5 " fill="none" stroke="#5a8fdb" stroke-width="7.8" stroke-linecap="butt" transform="translate(0.0,-4.0)" opacity="0.8" filter="url(#blur1)"/>
<ellipse cx="608" cy="875.8" rx="8.5" ry="12.3" fill="#1f4a8e"/>
<g transform="translate(607.0,876.5) rotate(4.85)"><rect x="0" y="-10.5" width="53.2" height="21.0" rx="1" fill="#bb7048"/><line x1="0" y1="-9.0" x2="53.2" y2="-9.0" stroke="#f2bc96" stroke-width="1.98"/><line x1="0" y1="-6.0" x2="53.2" y2="-6.0" stroke="#f2bc96" stroke-width="1.98"/><line x1="0" y1="-3.0" x2="53.2" y2="-3.0" stroke="#f2bc96" stroke-width="1.98"/><line x1="0" y1="0.0" x2="53.2" y2="0.0" stroke="#f2bc96" stroke-width="1.98"/><line x1="0" y1="3.0" x2="53.2" y2="3.0" stroke="#f2bc96" stroke-width="1.98"/><line x1="0" y1="6.0" x2="53.2" y2="6.0" stroke="#f2bc96" stroke-width="1.98"/><line x1="0" y1="9.0" x2="53.2" y2="9.0" stroke="#f2bc96" stroke-width="1.98"/><ellipse cx="53.2" cy="0" rx="3.4" ry="10.5" fill="#dcc6b8" stroke="#b08068" stroke-width="0.6"/></g>
<g fill="#4c5057">
<circle cx="178.3" cy="811.5" r="7.3" fill="#5e5e5e"/>
<circle cx="702.6" cy="685.3" r="7"/>
<circle cx="655.8" cy="919.4" r="7.1"/>
</g>
<g stroke="#3c3c3c" stroke-width="1.9" stroke-dasharray="5.5,3.5" fill="none">
<path d="M 178.8,818 L 178.8,930"/>
<path d="M 713,685.3 L 975,685.3 L 975,615"/>
<path d="M 671,919.3 L 794,919.3"/>
</g>
<text x="746.5" y="536.8" textLength="409.5" lengthAdjust="spacing" style="font-family:&quot;Liberation Sans&quot;,sans-serif;font-weight:bold;fill:#111;stroke:#111;stroke-width:1.2px;font-size:31.2px">PREMIUM COPPER WIRES</text>
<text x="745.9" y="572.2" textLength="396.3" lengthAdjust="spacingAndGlyphs" style="font-family:&quot;Liberation Sans&quot;,sans-serif;fill:#111;stroke:#111;stroke-width:0.25px;font-size:30.5px">Top Grade Copper Cord with</text>
<text x="746.0" y="607.3" textLength="251.6" lengthAdjust="spacingAndGlyphs" style="font-family:&quot;Liberation Sans&quot;,sans-serif;fill:#111;stroke:#111;stroke-width:0.25px;font-size:30.5px">Good Conductivity</text>
<text x="803.4" y="876.5" textLength="386.7" lengthAdjust="spacing" style="font-family:&quot;Liberation Sans&quot;,sans-serif;font-weight:bold;fill:#111;stroke:#111;stroke-width:1.2px;font-size:31.2px">UNIQUE COLOR CODING</text>
<text x="803.2" y="912.4" textLength="370.0" lengthAdjust="spacingAndGlyphs" style="font-family:&quot;Liberation Sans&quot;,sans-serif;fill:#111;stroke:#111;stroke-width:0.25px;font-size:30.5px">Suitable for connecting tail,</text>
<text x="803.2" y="947.6" textLength="354.6" lengthAdjust="spacingAndGlyphs" style="font-family:&quot;Liberation Sans&quot;,sans-serif;fill:#111;stroke:#111;stroke-width:0.25px;font-size:30.5px">brake,reverse,turn signals</text>
<text x="803.2" y="983.2" textLength="230.0" lengthAdjust="spacingAndGlyphs" style="font-family:&quot;Liberation Sans&quot;,sans-serif;fill:#111;stroke:#111;stroke-width:0.25px;font-size:30.5px">and auxiliary ect.</text>
<text x="51.6" y="964.1" textLength="305.0" lengthAdjust="spacing" style="font-family:&quot;Liberation Sans&quot;,sans-serif;font-weight:bold;fill:#111;stroke:#111;stroke-width:1.2px;font-size:31.2px">HIGH QUALITY PVC</text>
<text x="51.6" y="999.7" textLength="354.0" lengthAdjust="spacing" style="font-family:&quot;Liberation Sans&quot;,sans-serif;font-weight:bold;fill:#111;stroke:#111;stroke-width:1.2px;font-size:31.2px">HOUSING INSULATION</text>
<text x="51.4" y="1034.8" textLength="211.4" lengthAdjust="spacingAndGlyphs" style="font-family:&quot;Liberation Sans&quot;,sans-serif;fill:#111;stroke:#111;stroke-width:0.25px;font-size:30.5px">Soft and Sturdy</text>
<rect x="0" y="1129.4" width="1214" height="85" fill="#151515"/>
<path d="M 0,1090 L 485,1090 C 515,1090 535,1105 542.3,1127.4 L 568,1214 L 0,1214 Z" fill="#9c0e0e"/>
<text transform="translate(42.46,1175.6) scale(0.922,1)" x="0" y="0" style="font-family:&quot;Liberation Sans&quot;,sans-serif;font-weight:bold;font-size:54.3px;fill:#fff;stroke:#fff;stroke-width:1.41px">W</text>
<text transform="translate(92.39,1175.6) scale(0.962,1)" x="0" y="0" style="font-family:&quot;Liberation Sans&quot;,sans-serif;font-weight:bold;font-size:54.3px;fill:#fff;stroke:#fff;stroke-width:1.35px">I</text>
<text transform="translate(109.90,1175.6) scale(0.765,1)" x="0" y="0" style="font-family:&quot;Liberation Sans&quot;,sans-serif;font-weight:bold;font-size:54.3px;fill:#fff;stroke:#fff;stroke-width:1.70px">R</text>
<text transform="translate(143.79,1175.6) scale(0.962,1)" x="0" y="0" style="font-family:&quot;Liberation Sans&quot;,sans-serif;font-weight:bold;font-size:54.3px;fill:#fff;stroke:#fff;stroke-width:1.35px">I</text>
<text transform="translate(161.42,1175.6) scale(1.009,1)" x="0" y="0" style="font-family:&quot;Liberation Sans&quot;,sans-serif;font-weight:bold;font-size:54.3px;fill:#fff;stroke:#fff;stroke-width:1.30px">N</text>
<text transform="translate(203.89,1175.6) scale(0.798,1)" x="0" y="0" style="font-family:&quot;Liberation Sans&quot;,sans-serif;font-weight:bold;font-size:54.3px;fill:#fff;stroke:#fff;stroke-width:1.63px">G</text>
<text transform="translate(251.96,1175.6) scale(0.859,1)" x="0" y="0" style="font-family:&quot;Liberation Sans&quot;,sans-serif;font-weight:bold;font-size:54.3px;fill:#fff;stroke:#fff;stroke-width:1.51px">D</text>
<text transform="translate(288.20,1175.6) scale(1.013,1)" x="0" y="0" style="font-family:&quot;Liberation Sans&quot;,sans-serif;font-weight:bold;font-size:54.3px;fill:#fff;stroke:#fff;stroke-width:1.30px">I</text>
<text transform="translate(303.92,1175.6) scale(0.953,1)" x="0" y="0" style="font-family:&quot;Liberation Sans&quot;,sans-serif;font-weight:bold;font-size:54.3px;fill:#fff;stroke:#fff;stroke-width:1.36px">A</text>
<text transform="translate(342.64,1175.6) scale(0.779,1)" x="0" y="0" style="font-family:&quot;Liberation Sans&quot;,sans-serif;font-weight:bold;font-size:54.3px;fill:#fff;stroke:#fff;stroke-width:1.67px">G</text>
<text transform="translate(379.58,1175.6) scale(0.797,1)" x="0" y="0" style="font-family:&quot;Liberation Sans&quot;,sans-serif;font-weight:bold;font-size:54.3px;fill:#fff;stroke:#fff;stroke-width:1.63px">R</text>
<text transform="translate(412.05,1175.6) scale(0.926,1)" x="0" y="0" style="font-family:&quot;Liberation Sans&quot;,sans-serif;font-weight:bold;font-size:54.3px;fill:#fff;stroke:#fff;stroke-width:1.40px">A</text>
<text transform="translate(451.36,1175.6) scale(0.887,1)" x="0" y="0" style="font-family:&quot;Liberation Sans&quot;,sans-serif;font-weight:bold;font-size:54.3px;fill:#fff;stroke:#fff;stroke-width:1.47px">M</text>
</svg></body></html>
